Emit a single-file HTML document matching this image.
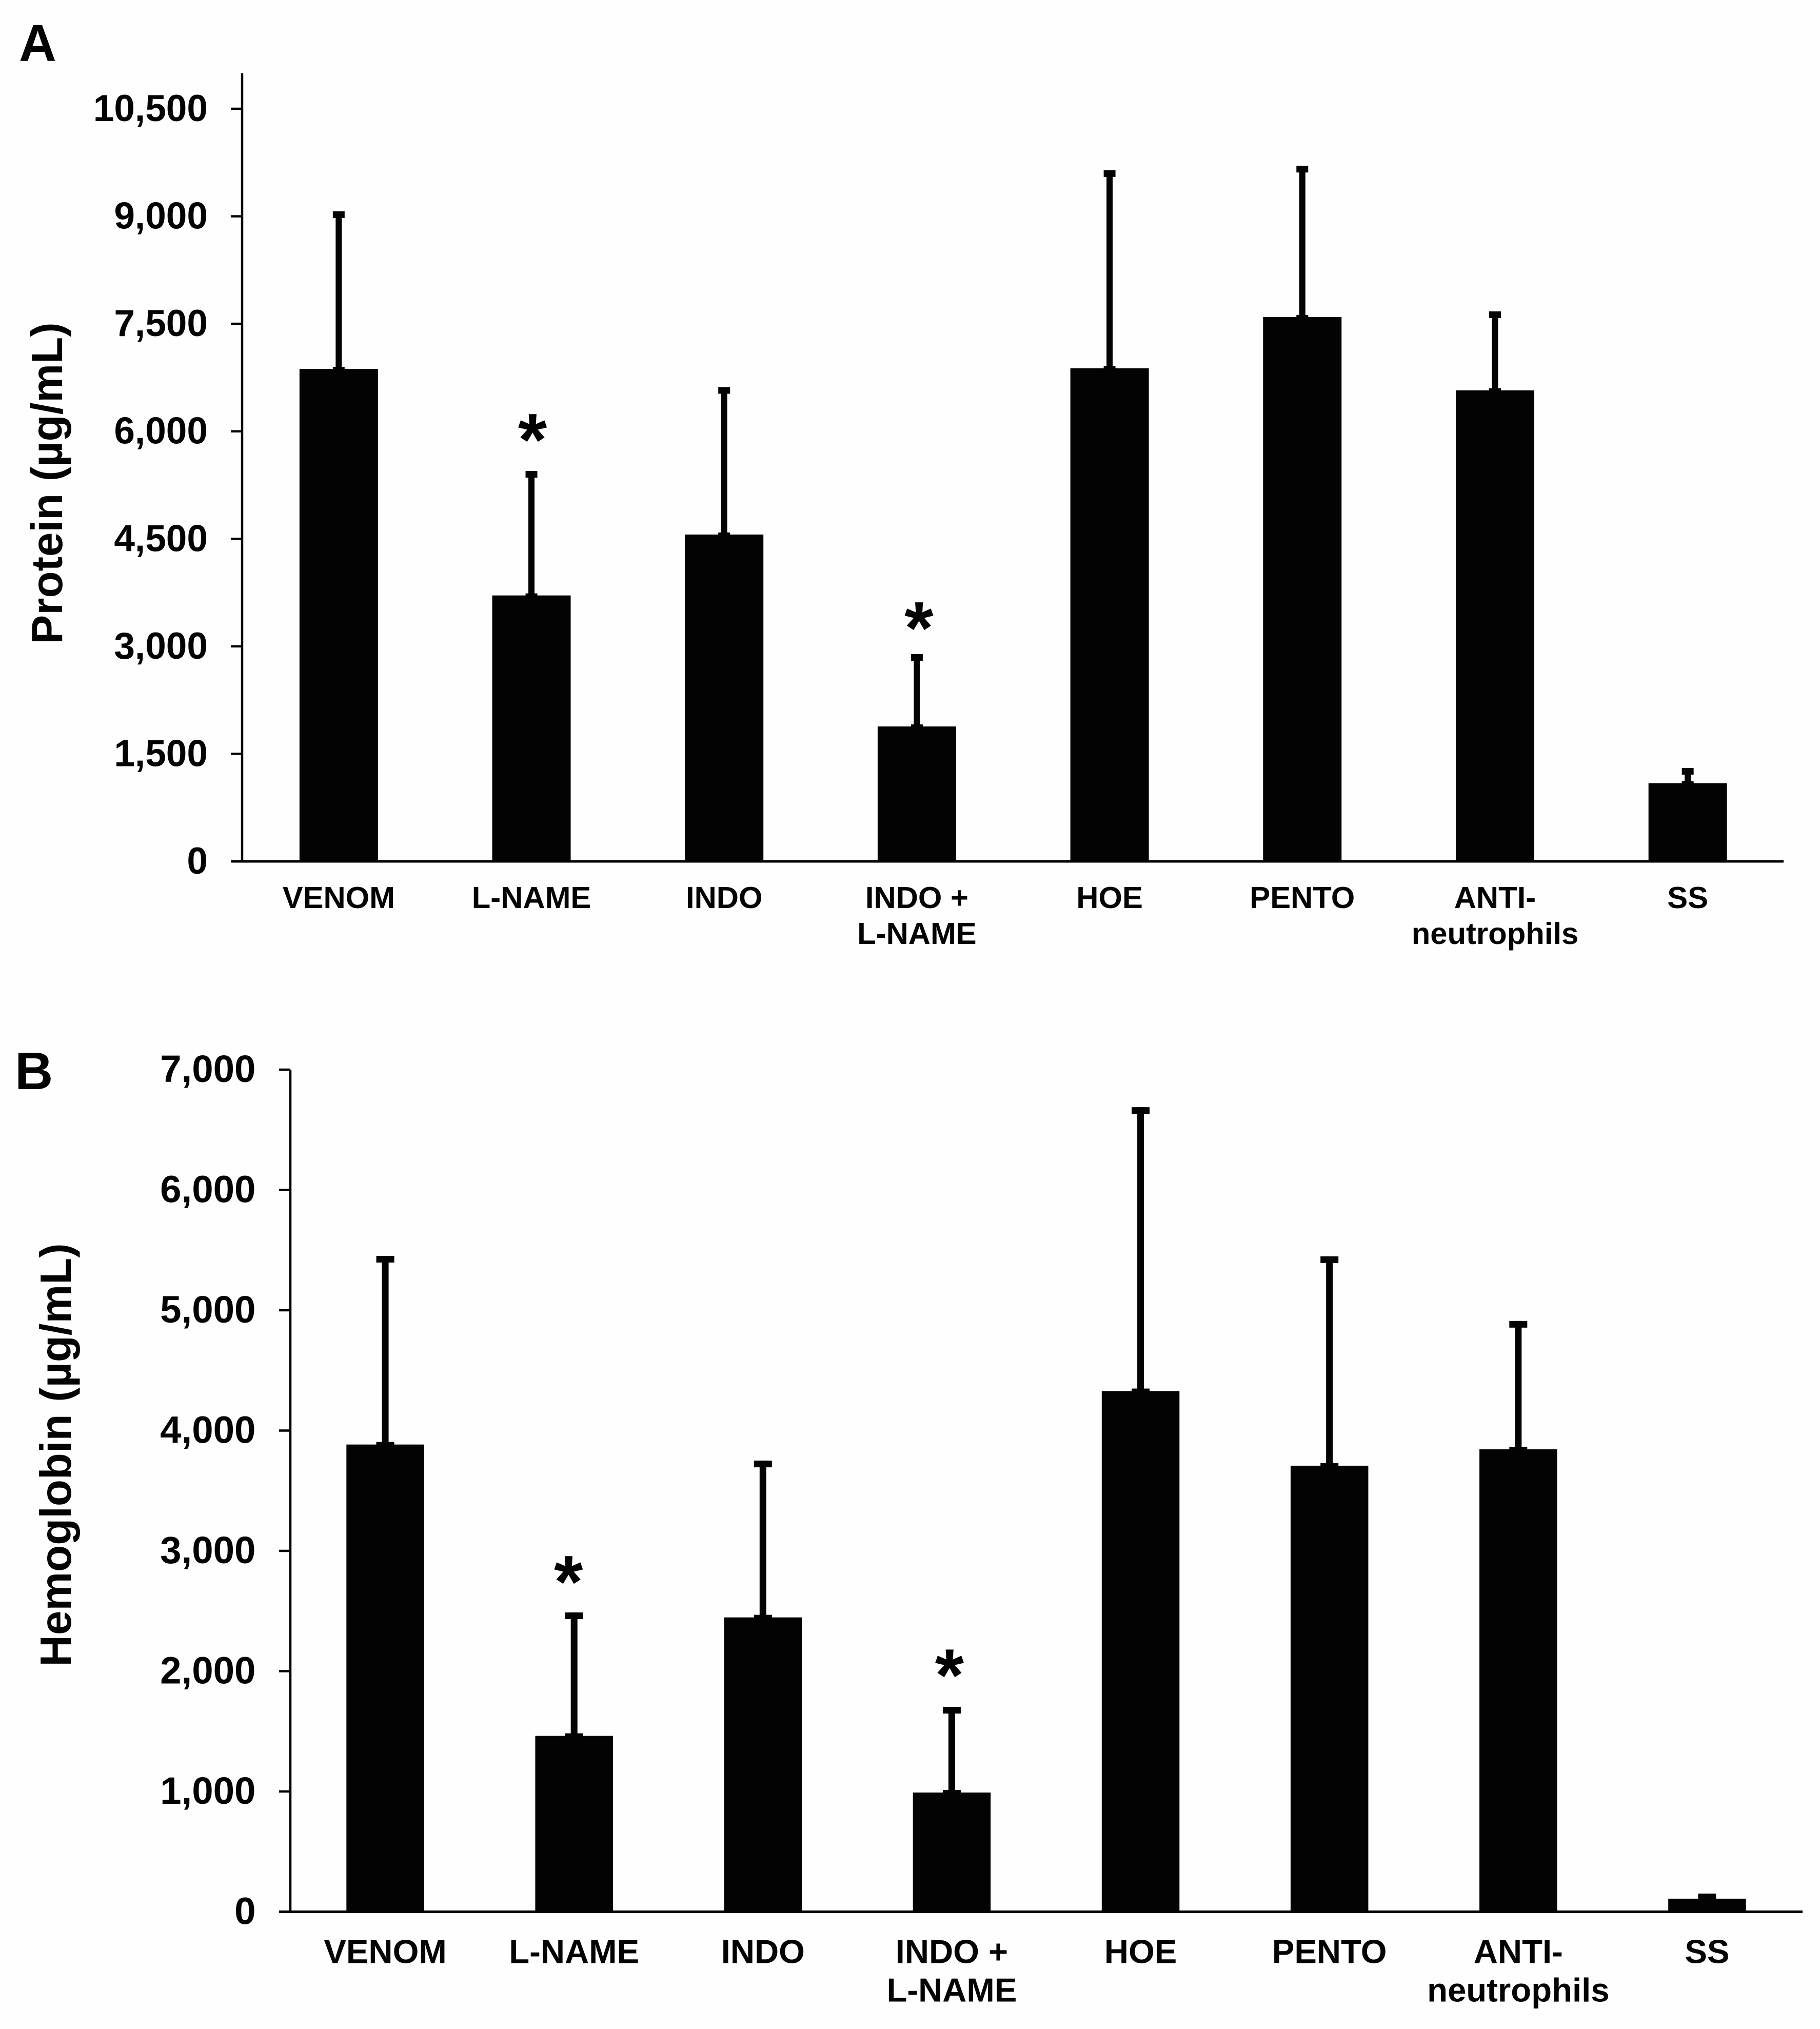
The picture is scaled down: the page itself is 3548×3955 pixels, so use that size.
<!DOCTYPE html>
<html lang="en">
<head>
<meta charset="utf-8">
<title>Protein and hemoglobin by treatment</title>
<style>
html,body{margin:0;padding:0;background:#fff;}
body{width:3548px;height:3955px;overflow:hidden;}
svg{display:block;}
text{font-family:"Liberation Sans",Arial,sans-serif;font-weight:bold;fill:#030303;}
</style>
</head>
<body>
<svg id="figure" xmlns="http://www.w3.org/2000/svg" width="3548" height="3955" viewBox="0 0 3548 3955">
<rect x="0" y="0" width="3548" height="3955" fill="#fefefe"/>
<text x="37" y="119" font-size="101">A</text>
<text x="29" y="2123" font-size="103">B</text>
<g id="panelA"></g>
<g id="panelB"></g>
</svg>
<script>
var categories = ["VENOM", "L-NAME", "INDO", "INDO +\nL-NAME", "HOE", "PENTO", "ANTI-\nneutrophils", "SS"];
var significant = [false, true, false, true, false, false, false, false];

var proteinTicks = [0, 1500, 3000, 4500, 6000, 7500, 9000, 10500];
var proteinTickLabels = ["0", "1,500", "3,000", "4,500", "6,000", "7,500", "9,000", "10,500"];
var proteinMeans = [6871, 3710, 4560, 1882, 6879, 7595, 6571, 1091];
var proteinErrors = [2198, 1737, 2057, 1010, 2763, 2109, 1102, 212];

var hemoglobinTicks = [0, 1000, 2000, 3000, 4000, 5000, 6000, 7000];
var hemoglobinTickLabels = ["0", "1,000", "2,000", "3,000", "4,000", "5,000", "6,000", "7,000"];
var hemoglobinMeans = [3884, 1462, 2447, 991, 4328, 3708, 3844, 109];
var hemoglobinErrors = [1568, 1026, 1303, 712, 2360, 1740, 1067, 42];

var SVG_NS = "http://www.w3.org/2000/svg";

function make(tag, parent, props) {
  var el = document.createElementNS(SVG_NS, tag);
  for (var k in props) { el.setAttribute(k, props[k]); }
  parent.appendChild(el);
  return el;
}

function slug(s) {
  return s.toLowerCase().replace(/[^a-z0-9]+/g, "-").replace(/^-|-$/g, "");
}

function drawPanel(root, prefix, cfg, ticks, tickLabels, means, errors) {
  function xScale(i) {
    return cfg.bandStart + (cfg.bandEnd - cfg.bandStart) / categories.length * (i + 0.5);
  }
  function yScale(v) {
    return cfg.baseY - (cfg.baseY - cfg.topTickY) * v / ticks[ticks.length - 1];
  }

  means.forEach(function (m, i) {
    var cx = xScale(i);
    var yTop = yScale(m);
    var yErr = yScale(m + errors[i]);

    var bar = make("rect", root, { x: cx - cfg.barW / 2, y: yTop, width: cfg.barW, height: cfg.baseY - yTop, fill: "#030303" });
    
    

    var stem = make("rect", root, { x: cx - cfg.stemW / 2, y: yErr, width: cfg.stemW, height: yTop - yErr, fill: "#030303" });
    
    

    var capTop = make("rect", root, { x: cx - cfg.capW / 2, y: yErr, width: cfg.capW, height: cfg.capH, fill: "#030303" });
    
    

    var capLow = make("rect", root, { x: cx - cfg.capW / 2, y: yTop - cfg.capLift, width: cfg.capW, height: cfg.capH, fill: "#030303" });
    
    

    if (significant[i]) {
      var nudge = cfg.starNudge[i];
      var star = make("text", root, { x: cx + nudge.dx, y: yErr + nudge.dy, "font-size": cfg.starSize, "text-anchor": "middle" });
      star.textContent = "*";
      
      
    }

    categories[i].split("\n").forEach(function (line, n) {
      var label = make("text", root, { x: cx, y: cfg.catY + n * cfg.catGap, "font-size": cfg.catSize, "text-anchor": "middle" });
      label.textContent = line;
      
      
    });
  });

  var yAxis = make("line", root, { x1: cfg.axisX, x2: cfg.axisX, y1: cfg.axisTop, y2: cfg.baseY + 2, stroke: "#030303", "stroke-width": 4.5 });
  
  

  var xAxis = make("line", root, { x1: cfg.tickX, x2: cfg.axisEnd, y1: cfg.baseY, y2: cfg.baseY, stroke: "#030303", "stroke-width": 5 });
  
  

  ticks.forEach(function (t, i) {
    var y = yScale(t);
    var mark = make("line", root, { x1: cfg.tickX, x2: cfg.axisX, y1: y, y2: y, stroke: "#030303", "stroke-width": 4.5 });
    
    

    var tl = make("text", root, { x: cfg.tickLabelX, y: y + cfg.tickLabelDy, "font-size": cfg.tickSize, "text-anchor": "end" });
    tl.textContent = tickLabels[i];
    
    
  });

  var title = make("text", root, {
    x: 0, y: 0, "font-size": cfg.titleSize, "text-anchor": "middle",
    transform: "translate(" + cfg.titleX + "," + cfg.titleY + ") rotate(-90)"
  });
  title.textContent = cfg.title;
  
  
}

drawPanel(document.getElementById("panelA"), "protein", {
  axisX: 472, axisEnd: 3477, axisTop: 143, baseY: 1679, topTickY: 212, tickX: 450,
  bandStart: 472.5, bandEnd: 3478,
  barW: 153, stemW: 12, capW: 23, capH: 13, capLift: 4,
  starSize: 145, starNudge: { 1: { dx: 2, dy: -11 }, 3: { dx: 4, dy: -1 } },
  catY: 1770, catGap: 70, catSize: 59.8, tickLabelX: 405, tickLabelDy: 24, tickSize: 73,
  title: "Protein (\u00b5g/mL)", titleSize: 85.3, titleX: 121, titleY: 942
}, proteinTicks, proteinTickLabels, proteinMeans, proteinErrors);

drawPanel(document.getElementById("panelB"), "hemoglobin", {
  axisX: 566, axisEnd: 3514, axisTop: 2085, baseY: 3726.5, topTickY: 2085, tickX: 544,
  bandStart: 567, bandEnd: 3512,
  barW: 151.5, stemW: 13, capW: 35, capH: 13, capLift: 5,
  starSize: 145, starNudge: { 1: { dx: -11, dy: -10 }, 3: { dx: -4.5, dy: -12 } },
  catY: 3826.5, catGap: 75, catSize: 65.3, tickLabelX: 498.5, tickLabelDy: 24, tickSize: 74.5,
  title: "Hemoglobin (\u00b5g/mL)", titleSize: 85.2, titleX: 138, titleY: 2836
}, hemoglobinTicks, hemoglobinTickLabels, hemoglobinMeans, hemoglobinErrors);
</script>
</body>
</html>
